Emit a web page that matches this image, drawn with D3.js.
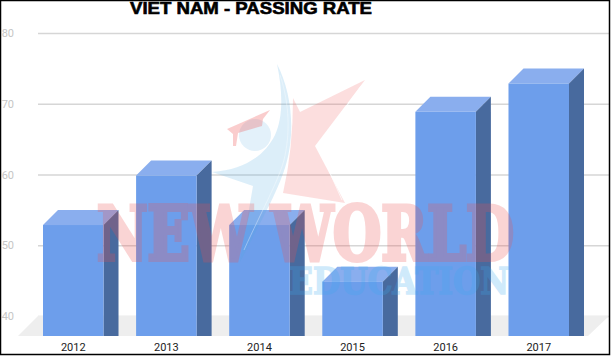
<!DOCTYPE html>
<html>
<head>
<meta charset="utf-8">
<script src="https://cdn.jsdelivr.net/npm/d3@7"></script>
<style>
  html, body { margin: 0; padding: 0; background: #fff; }
  svg { display: block; }
  text { font-family: Roboto, sans-serif; }
</style>
</head>
<body>
<div id="chart"></div>
<script>
const years = ['2012', '2013', '2014', '2015', '2016', '2017'];
const passRates = [53, 60, 53, 45, 69, 73];
const yTicks = [40, 50, 60, 70, 80];

const width = 611, height = 356;
const baseY = 336, depth = 15, frontDrop = 1;

const svg = d3.select('#chart').append('svg')
  .attr('width', width)
  .attr('height', height);

const x = d3.scaleBand().domain(years).range([43, 569]).paddingInner(0.35).paddingOuter(0);
const y = d3.scaleLinear().domain([40, 80]).range([316, 33]);

// gridlines + labels
const yAxis = d3.axisLeft(y).tickValues(yTicks).tickSize(-571).tickPadding(24);
svg.append('g')
  .attr('transform', 'translate(38,0)')
  .call(yAxis)
  .call(g => g.select('.domain').remove())
  .call(g => g.selectAll('.tick line').attr('stroke', '#d6d6d6').attr('stroke-width', 1.4))
  .call(g => g.selectAll('.tick text').attr('fill', '#c6c6c6').attr('font-size', 11).attr('font-family', 'Roboto, sans-serif'));

// floor
svg.append('path')
  .attr('d', d3.line()([[38, 316], [609, 316], [588, baseY], [18, baseY]]) + 'Z')
  .attr('fill', '#eeeeee');

// 3d bars
const bars = svg.append('g').selectAll('g')
  .data(years.map((d, i) => ({ year: d, value: passRates[i] })))
  .join('g');

bars.append('path') // top
  .attr('fill', '#8aaeee')
  .attr('d', d => {
    const l = x(d.year), r = l + x.bandwidth(), t = y(d.value) + frontDrop;
    return d3.line()([[l, t], [l + depth, t - depth], [r + depth, t - depth], [r, t]]) + 'Z';
  });
bars.append('path') // side
  .attr('fill', '#486a9e')
  .attr('d', d => {
    const r = x(d.year) + x.bandwidth(), t = y(d.value) + frontDrop;
    return d3.line()([[r, t], [r + depth, t - depth], [r + depth, baseY], [r, baseY]]) + 'Z';
  });
bars.append('rect') // front
  .attr('fill', '#6d9eeb')
  .attr('x', d => x(d.year))
  .attr('y', d => y(d.value) + frontDrop)
  .attr('width', x.bandwidth())
  .attr('height', d => baseY - y(d.value) - frontDrop);

// x labels
svg.append('g')
  .attr('transform', `translate(0,${baseY})`)
  .call(d3.axisBottom(x).tickSize(0).tickPadding(7))
  .call(g => g.select('.domain').remove())
  .call(g => g.selectAll('.tick text').attr('fill', '#222').attr('font-size', 11).attr('font-family', 'Roboto, sans-serif'));

// watermark logo
const logo = svg.append('g');
logo.append('path') // star
  .attr('fill', 'rgba(238,90,90,0.2)')
  .attr('d', 'M293,98 L300,112 L365,80 L315,146 L345,203 L283,193 Q293,150 293,98Z');
logo.append('path') // star highlight
  .attr('fill', 'none').attr('stroke', 'rgba(255,255,255,0.7)').attr('stroke-width', 1)
  .attr('d', 'M361,86 L318,146 L342,200');
logo.append('path') // swoosh person
  .attr('fill', 'rgba(80,170,225,0.2)')
  .attr('d', 'M277,64 C288,85 294,115 290,145 C286,175 275,195 240,262 L253,186 L212,172 C245,170 265,155 275,135 C283,118 283,92 277,64Z');
logo.append('path') // swoosh highlight
  .attr('fill', 'none').attr('stroke', 'rgba(255,255,255,0.35)').attr('stroke-width', 1)
  .attr('d', 'M280,75 C290,105 290,135 284,160 C278,182 262,210 244,250');
logo.append('circle')
  .attr('cx', 255).attr('cy', 135).attr('r', 16)
  .attr('fill', 'rgba(80,170,225,0.16)');
logo.append('path') // grad cap
  .attr('fill', 'rgba(238,90,90,0.3)')
  .attr('d', 'M227,129 L270,110 L263,119 L262,126 L238,133 L236,146 L233,146 L233,134Z');

logo.append('text')
  .attr('x', 97).attr('y', 260)
  .attr('textLength', 417).attr('lengthAdjust', 'spacingAndGlyphs')
  .attr('font-size', 74).attr('font-weight', 'bold')
  .style('font-family', '"DejaVu Serif", serif').style('font-stretch', 'condensed')
  .attr('fill', '#ee5050').attr('stroke', '#ee5050').attr('stroke-width', 4)
  .attr('opacity', 0.24)
  .text('NEW WORLD');
logo.append('text')
  .attr('x', 289).attr('y', 294)
  .attr('textLength', 220).attr('lengthAdjust', 'spacingAndGlyphs')
  .attr('font-size', 38).attr('font-weight', 'bold')
  .style('font-family', '"DejaVu Serif", serif').style('font-stretch', 'condensed')
  .attr('fill', '#3caaf0').attr('stroke', '#3caaf0').attr('stroke-width', 1.5)
  .attr('opacity', 0.24)
  .text('EDUCATION');

// title
svg.append('text')
  .attr('x', 130).attr('y', 14)
  .attr('textLength', 242).attr('lengthAdjust', 'spacingAndGlyphs')
  .attr('font-size', 16.5).attr('font-weight', 'bold')
  .style('font-family', '"Liberation Sans", sans-serif')
  .attr('fill', '#000').attr('stroke', '#000').attr('stroke-width', 0.6)
  .text('VIET NAM - PASSING RATE');

// frame
svg.append('rect')
  .attr('x', 0.5).attr('y', 0.5)
  .attr('width', 609).attr('height', 354)
  .attr('fill', 'none').attr('stroke', '#000').attr('stroke-width', 1.5);
</script>
</body>
</html>
